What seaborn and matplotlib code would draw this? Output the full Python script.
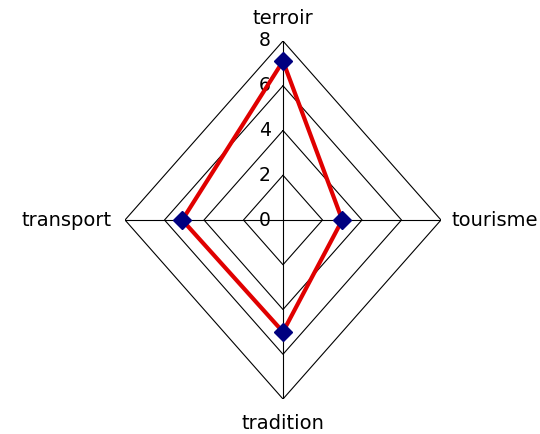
import numpy as np
import pandas as pd
import matplotlib
matplotlib.use("Agg")
import matplotlib.pyplot as plt
import seaborn as sns

# data
categories = ["terroir", "tourisme", "tradition", "transport"]
values = [7.1, 3.0, 5.0, 5.1]
ring_levels = [0, 2, 4, 6, 8]
tick_labels = ["0", "2", "4", "6", "8"]

sns.set_style("white")
plt.rcParams["font.family"] = ["DejaVu Sans"]

W, H = 540, 434
fig = plt.figure(figsize=(W / 100, H / 100), dpi=100)
# axes box spans the outer ring (-8..8) in both directions
ax = fig.add_axes([125 / W, (H - 399) / H, 316 / W, 358 / H])

# angles clockwise from the top
angles = np.arange(len(categories)) * 2 * np.pi / len(categories)
ux, uy = np.sin(angles), np.cos(angles)

# diamond grid rings
for r in ring_levels[1:]:
    xs = np.append(r * ux, r * ux[0])
    ys = np.append(r * uy, r * uy[0])
    ax.plot(xs, ys, color="black", lw=0.8, zorder=1)

# spokes
for i in range(len(categories)):
    ax.plot([0, 8 * ux[i]], [0, 8 * uy[i]], color="black", lw=0.8, zorder=1)

# data series (closed polygon)
df = pd.DataFrame({
    "x": np.append(np.array(values) * ux, values[0] * ux[0]),
    "y": np.append(np.array(values) * uy, values[0] * uy[0]),
})
sns.lineplot(data=df, x="x", y="y", sort=False, ax=ax, color="#e00000",
             lw=3, zorder=3, estimator=None)
ax.plot(df["x"][:-1], df["y"][:-1], ls="none", marker="D", ms=9,
        color="#000080", zorder=4)
ax.set_xlim(-8, 8)
ax.set_ylim(-8, 8)
ax.axis("off")

# radial tick labels
for r, lab in zip(ring_levels, tick_labels):
    ax.text(-0.62, r, lab, ha="right", va="center", fontsize=13.5,
            color="black", zorder=2)

# category labels
lab_kw = dict(fontsize=14, color="black")
ax.text(0, 8.76, categories[0], ha="center", va="baseline", **lab_kw)
ax.text(8.55, 0, categories[1], ha="left", va="center", **lab_kw)
ax.text(0, -9.34, categories[2], ha="center", va="baseline", **lab_kw)
ax.text(-8.66, 0, categories[3], ha="right", va="center", **lab_kw)

fig.savefig("out.png", dpi=100)
